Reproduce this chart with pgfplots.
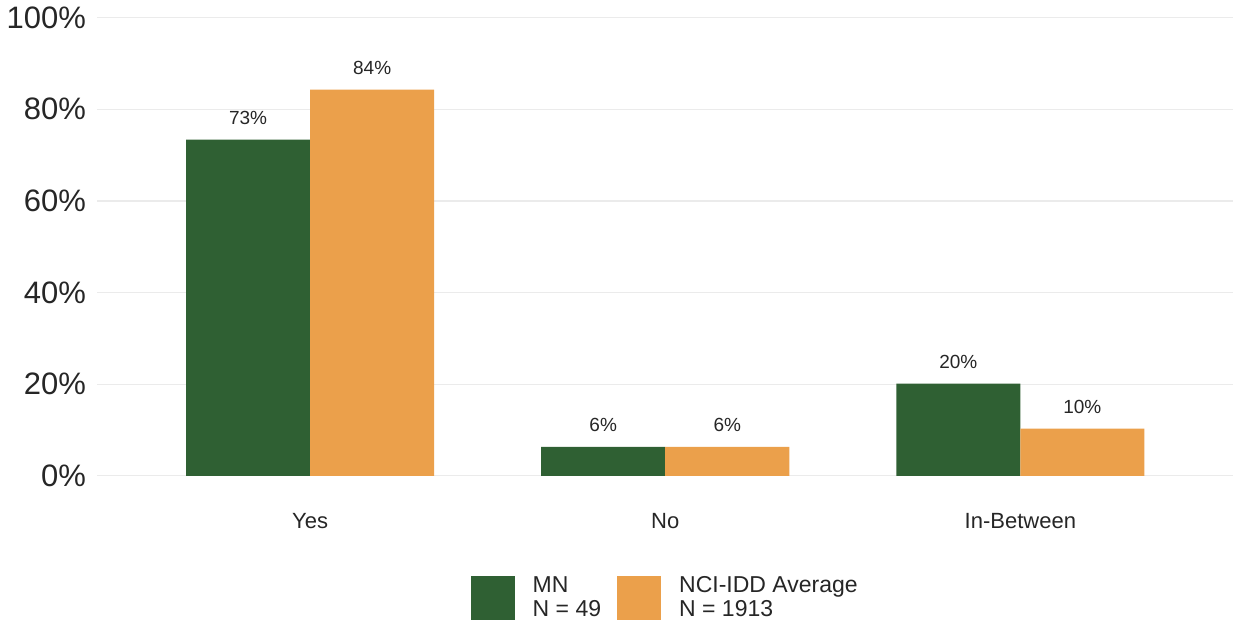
\documentclass[border=0pt]{standalone}
\usepackage{pgfplots}
\pgfplotsset{compat=1.18}
\usepackage{fontspec}
\setmainfont{Liberation Sans}
\definecolor{mngreen}{HTML}{2F6033}
\definecolor{nciorange}{HTML}{EBA04B}
\definecolor{gridgray}{HTML}{EBEBEB}
\begin{document}
\begin{tikzpicture}
\begin{axis}[
  scale only axis,
  width=568pt, height=229pt,
  ybar=0pt, bar width=62pt,
  xmin=-0.6, xmax=2.6,
  ymin=0, ymax=100,
  xtick={0,1,2},
  xticklabels={Yes,No,In-Between},
  ytick={0,20,...,100},
  yticklabel={\pgfmathprintnumber{\tick}\%},
  /pgf/number format/assume math mode=true,
  axis line style={draw=none},
  major tick length=0pt,
  ymajorgrids,
  grid style={gridgray, line width=0.6pt},
  yticklabel style={font=\fontsize{15.5}{15.5}\selectfont, text=black!85, xshift=-2pt},
  xticklabel style={font=\fontsize{11}{11}\selectfont, text=black!85, yshift=-15pt},
  nodes near coords={\pgfmathprintnumber[fixed,precision=0]{\pgfplotspointmeta}\%},
  nodes near coords style={font=\fontsize{9.5}{9.5}\selectfont, text=black!85, yshift=4pt},
  legend style={at={(0.5,-0.205)}, anchor=north, draw=none, legend columns=2,
    font=\fontsize{11.5}{12}\selectfont, text=black!85,
    nodes={align=left, inner sep=1pt},
    /tikz/every odd column/.append style={column sep=8pt},
    /tikz/every even column/.append style={column sep=7pt}},
  legend image code/.code={\fill[#1] (0pt,-11pt) rectangle (22pt,11pt);},
  legend cell align=left,
]
\addplot[fill=mngreen, draw=none] coordinates {(0,73.4) (1,6.3) (2,20.1)};
\addplot[fill=nciorange, draw=none] coordinates {(0,84.3) (1,6.3) (2,10.3)};
\legend{{MN\\N = 49},{NCI-IDD Average\\N = 1913}}
\end{axis}
\end{tikzpicture}
\end{document}
